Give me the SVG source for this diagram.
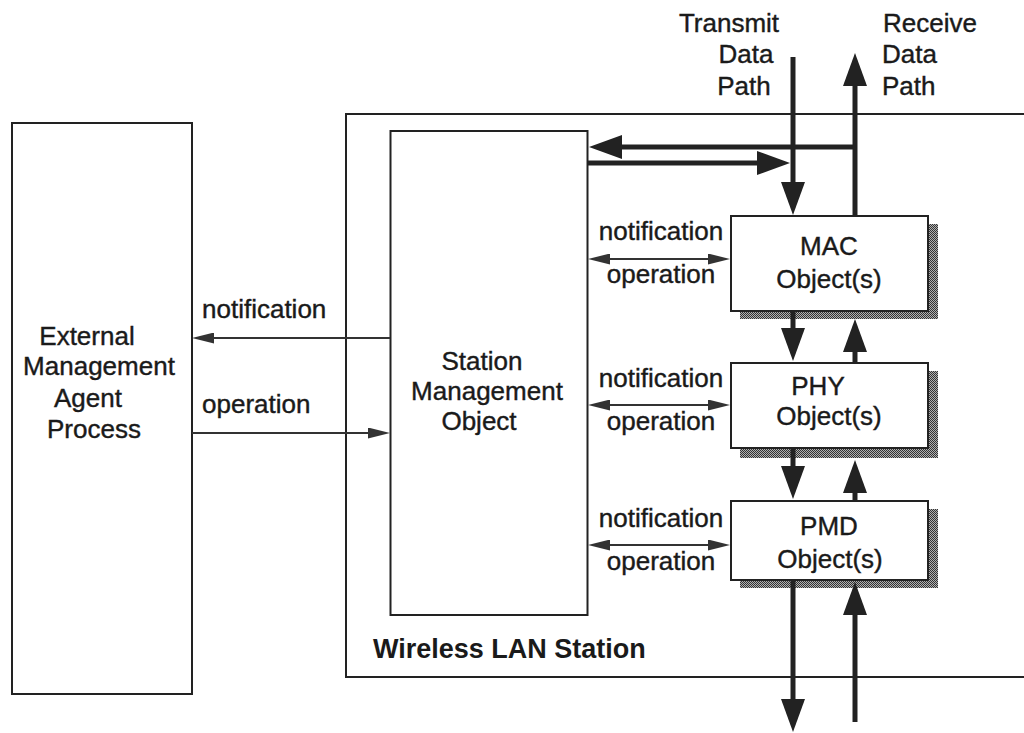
<svg xmlns="http://www.w3.org/2000/svg" width="1024" height="733" viewBox="0 0 1024 733">
  <style>
    .box { fill: #ffffff; stroke: #222; stroke-width: 2; }
    .frame { fill: none; stroke: #222; stroke-width: 2; }
    .shadow { fill: url(#checker); }
    .label { font-family: "Liberation Sans", Arial, sans-serif; font-size: 26px; fill: #1a1a1a; stroke: #1a1a1a; stroke-width: 0.4; }
    .mid { text-anchor: middle; }
    .title { font-weight: bold; font-size: 27px; stroke-width: 0; }
    .thick { stroke: #222; stroke-width: 5; fill: none; marker-end: url(#head-thick); }
    .thin { stroke: #333; stroke-width: 2; fill: none; marker-end: url(#head-thin); }
    .both { marker-start: url(#head-thin); }
  </style>
  <defs>
    <pattern id="checker" width="2" height="2" patternUnits="userSpaceOnUse">
      <rect width="2" height="2" fill="#b0b0b0"/>
      <rect width="1" height="1" fill="#333"/>
      <rect x="1" y="1" width="1" height="1" fill="#333"/>
    </pattern>
    <marker id="head-thick" markerUnits="userSpaceOnUse" markerWidth="34" markerHeight="24" refX="1" refY="12" orient="auto">
      <path d="M0,0 L33,12 L0,24 Z" fill="#222"/>
    </marker>
    <marker id="head-thin" markerUnits="userSpaceOnUse" markerWidth="22" markerHeight="11" refX="1" refY="5.5" orient="auto-start-reverse">
      <path d="M0,0 L22,5.5 L0,11 Z" fill="#333"/>
    </marker>
  </defs>

  <rect width="1024" height="733" fill="#ffffff"/>

  <!-- station enclosure, open to the right -->
  <g id="wireless-lan-station">
    <path class="frame" d="M1026,114 H346 V677 H1026"/>
    <text class="label title" x="373" y="658">Wireless LAN Station</text>
  </g>

  <g id="external-agent">
    <rect class="box" x="12" y="123" width="180" height="571"/>
    <text class="label mid" x="87" y="345">External</text>
    <text class="label mid" x="99" y="375">Management</text>
    <text class="label mid" x="88" y="407">Agent</text>
    <text class="label mid" x="94" y="438">Process</text>
  </g>

  <g id="station-management">
    <rect class="box" x="390.5" y="131" width="197" height="484"/>
    <text class="label mid" x="482" y="370">Station</text>
    <text class="label mid" x="487" y="400">Management</text>
    <text class="label mid" x="479" y="430">Object</text>
  </g>

  <g id="mac-object">
    <rect class="shadow" x="740" y="224" width="198" height="95"/>
    <rect class="box" x="731" y="216" width="197" height="95"/>
    <text class="label mid" x="829" y="255">MAC</text>
    <text class="label mid" x="829" y="288">Object(s)</text>
  </g>

  <g id="phy-object">
    <rect class="shadow" x="740" y="371" width="198" height="87"/>
    <rect class="box" x="731" y="363" width="197" height="85"/>
    <text class="label mid" x="818" y="395">PHY</text>
    <text class="label mid" x="829" y="425">Object(s)</text>
  </g>

  <g id="pmd-object">
    <rect class="shadow" x="740" y="509" width="198" height="79"/>
    <rect class="box" x="731" y="501" width="197" height="79"/>
    <text class="label mid" x="829" y="535">PMD</text>
    <text class="label mid" x="830" y="568">Object(s)</text>
  </g>

  <g id="data-path-labels">
    <text class="label mid" x="729" y="32">Transmit</text>
    <text class="label mid" x="746" y="63">Data</text>
    <text class="label mid" x="744" y="95">Path</text>
    <text class="label" x="883" y="32">Receive</text>
    <text class="label" x="882" y="63">Data</text>
    <text class="label" x="882" y="95">Path</text>
  </g>

  <g id="connectors">
    <!-- management interface between agent and station -->
    <line class="thin" x1="390" y1="338" x2="213" y2="338"/>
    <line class="thin" x1="192" y1="433" x2="369" y2="433"/>
    <text class="label" x="202" y="318">notification</text>
    <text class="label" x="202" y="413">operation</text>

    <!-- notification / operation links to layer objects -->
    <line class="thin both" x1="609" y1="259" x2="709" y2="259"/>
    <text class="label mid" x="661" y="240">notification</text>
    <text class="label mid" x="661" y="283">operation</text>

    <line class="thin both" x1="609" y1="405" x2="709" y2="405"/>
    <text class="label mid" x="661" y="387">notification</text>
    <text class="label mid" x="661" y="430">operation</text>

    <line class="thin both" x1="609" y1="545" x2="709" y2="545"/>
    <text class="label mid" x="661" y="527">notification</text>
    <text class="label mid" x="661" y="570">operation</text>

    <!-- transmit and receive data paths -->
    <line class="thick" x1="793" y1="57" x2="793" y2="183"/>
    <line class="thick" x1="855" y1="216" x2="855" y2="85"/>
    <line class="thick" x1="857" y1="147" x2="621" y2="147"/>
    <line class="thick" x1="588" y1="163" x2="758" y2="163"/>

    <line class="thick" x1="793" y1="311" x2="793" y2="329"/>
    <line class="thick" x1="855" y1="363" x2="855" y2="351"/>

    <line class="thick" x1="793" y1="448" x2="793" y2="467"/>
    <line class="thick" x1="855" y1="501" x2="855" y2="492"/>

    <line class="thick" x1="793" y1="580" x2="793" y2="700"/>
    <line class="thick" x1="855" y1="722" x2="855" y2="614"/>
  </g>
</svg>
